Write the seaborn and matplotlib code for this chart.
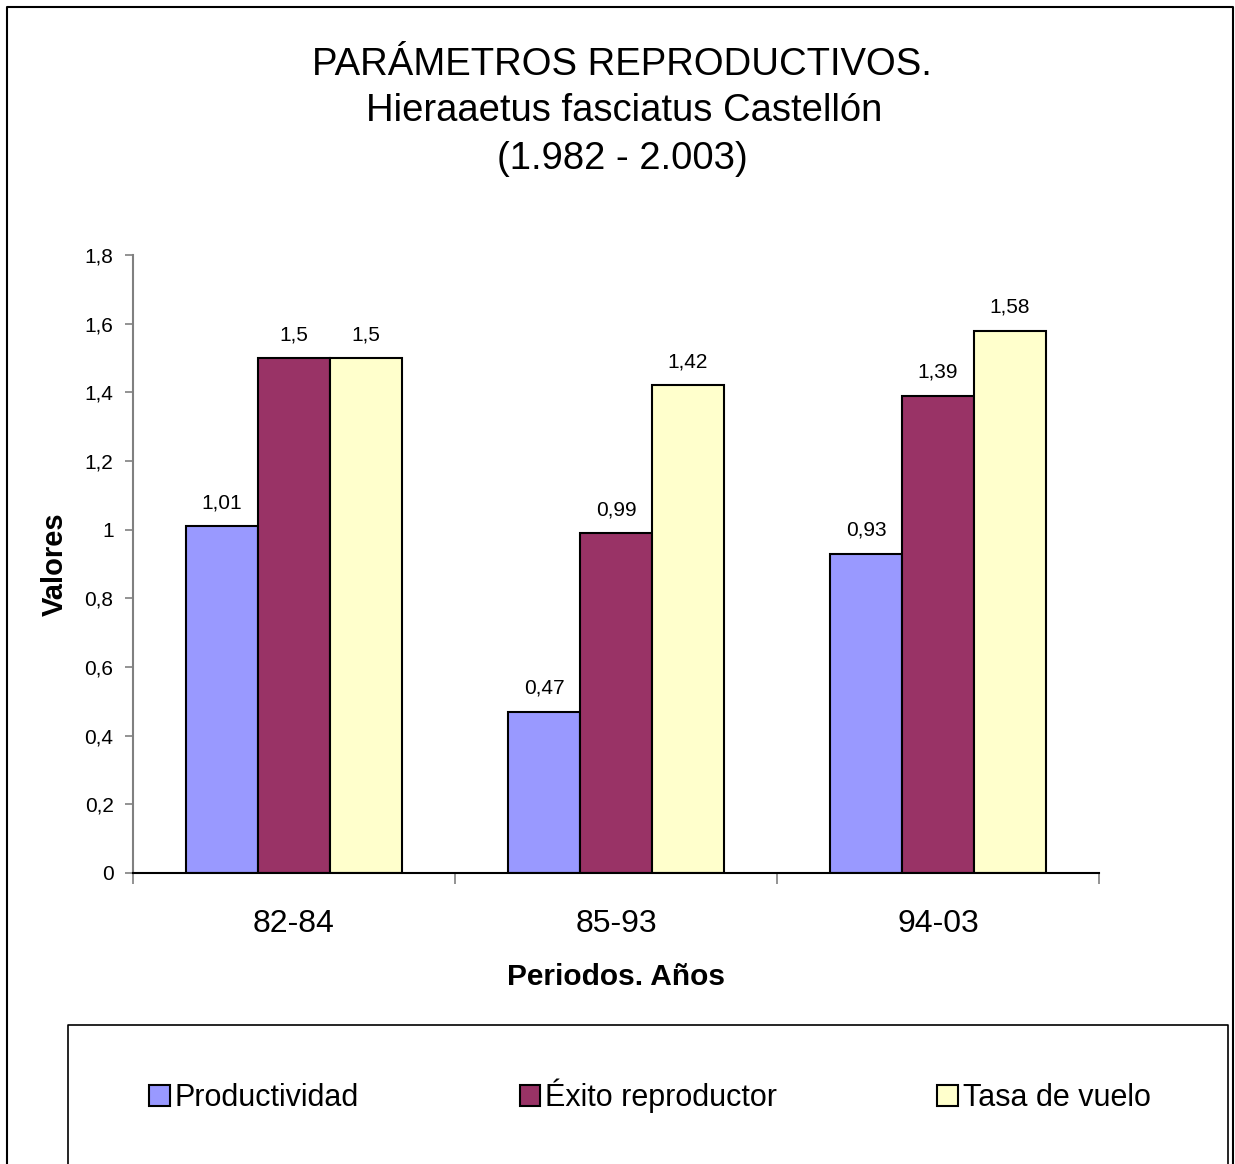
import matplotlib
matplotlib.use("Agg")
import matplotlib.pyplot as plt
import seaborn as sns
import pandas as pd
from matplotlib.lines import Line2D

# ---- data ----
periods = ["82-84", "85-93", "94-03"]
series_names = ["Productividad", "Éxito reproductor", "Tasa de vuelo"]
productividad = [1.01, 0.47, 0.93]
exito = [1.5, 0.99, 1.39]
tasa = [1.5, 1.42, 1.58]
yticks = [0, 0.2, 0.4, 0.6, 0.8, 1.0, 1.2, 1.4, 1.6, 1.8]
colors = ["#9999FF", "#993366", "#FFFFCC"]

df = pd.DataFrame({
    "Periodo": periods * 3,
    "Serie": [series_names[0]] * 3 + [series_names[1]] * 3 + [series_names[2]] * 3,
    "Valor": productividad + exito + tasa,
})

sns.set_style("white")
plt.rcParams["font.family"] = ["Liberation Sans", "DejaVu Sans"]
plt.rcParams["text.color"] = "black"
plt.rcParams["axes.labelcolor"] = "black"
plt.rcParams["xtick.color"] = "black"
plt.rcParams["ytick.color"] = "black"

W, H = 1235, 1164
fig = plt.figure(figsize=(W / 100, H / 100), dpi=100)
ax = fig.add_axes([133 / W, 1 - 873 / H, (1099 - 133) / W, (873 - 255) / H])

sns.barplot(data=df, x="Periodo", y="Valor", hue="Serie", order=periods,
            hue_order=series_names, palette=colors, width=0.671,
            edgecolor="black", linewidth=1.5, saturation=1, ax=ax, legend=True)

def fmt(v):
    s = ("%.2f" % v).rstrip("0").rstrip(".")
    return s.replace(".", ",")

for cont in ax.containers:
    vals = [b.get_height() for b in cont]
    ax.bar_label(cont, labels=[fmt(v) for v in vals], padding=10, fontsize=15, color="black")

ax.set_ylim(0, 1.8)
ax.set_xlim(-0.5, 2.5)
ax.set_yticks(yticks)
ax.set_yticklabels([fmt(v) for v in yticks], fontsize=15)
ax.tick_params(axis="y", direction="out", length=6, width=1.2, color="#808080",
               labelcolor="black", pad=8, left=True)

# category boundaries as major ticks, names as minor tick labels
ax.set_xticks([-0.5, 0.5, 1.5, 2.5])
ax.set_xticklabels([])
ax.set_xticks([0, 1, 2], minor=True)
ax.set_xticklabels(periods, minor=True, fontsize=23)
ax.tick_params(axis="x", which="major", direction="out", length=8, width=1.2, color="#808080", bottom=True)
ax.tick_params(axis="x", which="minor", length=0, pad=26, labelcolor="black")

for s in ["top", "right"]:
    ax.spines[s].set_visible(False)
ax.spines["left"].set_color("#808080")
ax.spines["left"].set_linewidth(1.5)
ax.spines["bottom"].set_color("black")
ax.spines["bottom"].set_linewidth(1.5)
ax.grid(False)

ax.set_ylabel("Valores", fontsize=21, fontweight="bold", color="black")
ax.yaxis.set_label_coords(-0.066, 0.5)
ax.set_xlabel("Periodos. Años", fontsize=21.5, fontweight="bold", color="black")
ax.xaxis.set_label_coords(0.5, -0.146)

# title
fig.text(622 / W, 1 - 65 / H, "PARÁMETROS REPRODUCTIVOS.", ha="center", va="center", fontsize=27.5)
fig.text(624 / W, 1 - 111 / H, "Hieraaetus fasciatus Castellón", ha="center", va="center", fontsize=27.5)
fig.text(622 / W, 1 - 159 / H, "(1.982 - 2.003)", ha="center", va="center", fontsize=27.5)

# legend
handles, labels = ax.get_legend_handles_labels()
ax.legend_.remove()
leg = fig.legend(handles, labels, loc="center", bbox_to_anchor=(650 / W, 1 - 1096 / H),
                 ncol=3, frameon=False, fontsize=22, handlelength=0.68, handleheight=0.68,
                 handletextpad=0.15, columnspacing=5.25, borderaxespad=0)

# figure border and legend box
def fline(xs, ys, lw=1.5):
    fig.add_artist(Line2D([x / W for x in xs], [1 - y / H for y in ys], color="black", lw=lw))

fline([7, 7, 1233, 1233], [1170, 7, 7, 1170])
fline([68, 68, 1228, 1228], [1170, 1025, 1025, 1170], lw=1.2)

fig.savefig("out.png", dpi=100)
